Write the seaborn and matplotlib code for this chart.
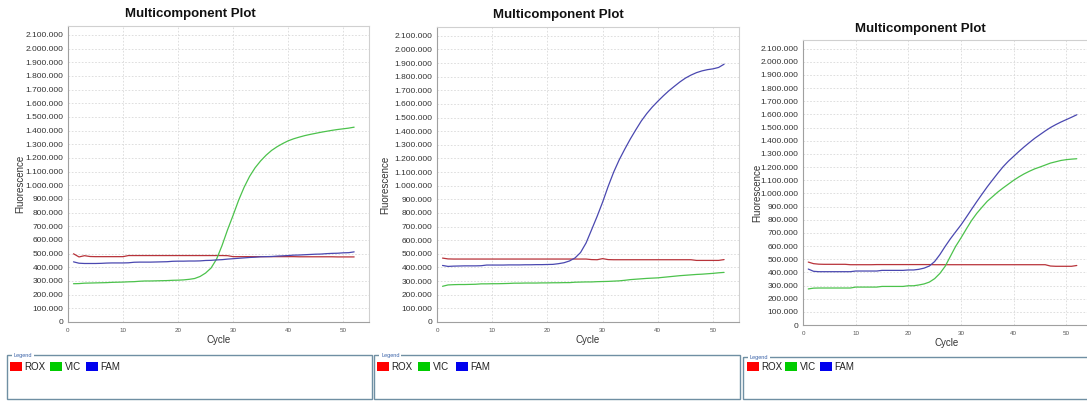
import numpy as np
import pandas as pd
import matplotlib
matplotlib.use("Agg")
import matplotlib.pyplot as plt
import seaborn as sns
from matplotlib.patches import Rectangle
from matplotlib.ticker import FuncFormatter, MultipleLocator

sns.set_style("white")
plt.rcParams['font.family'] = ['Liberation Sans', 'DejaVu Sans']

# Cycle numbers (shared by all three runs)
cycles = list(range(1, 53))
dyes = ["ROX", "VIC", "FAM"]

# Run 1 - fluorescence per cycle (thousands)
p1_rox = [499, 476, 485, 479, 478, 478, 478, 478, 478, 478,
          486, 486, 486, 486, 486, 486, 486, 486, 486, 486,
          486, 486, 486, 486, 486, 486, 486, 486, 485, 478,
          478, 478, 478, 478, 478, 478, 478, 478, 478, 478,
          478, 477, 477, 477, 477, 477, 477, 477, 476, 476,
          476, 476]
p1_vic = [280, 281, 284, 285, 286, 287, 288, 290, 291, 292,
          294, 295, 298, 300, 300, 301, 302, 303, 305, 306,
          308, 312, 318, 333, 358, 395, 460, 560, 675, 780,
          890, 985, 1065, 1128, 1178, 1220, 1255, 1282, 1305, 1325,
          1340, 1352, 1363, 1372, 1380, 1388, 1395, 1402, 1408, 1413,
          1418, 1425]
p1_fam = [440, 430, 428, 428, 428, 429, 431, 432, 432, 432,
          433, 437, 438, 438, 438, 439, 440, 441, 444, 445,
          445, 446, 446, 447, 450, 451, 454, 456, 460, 463,
          466, 469, 472, 474, 477, 478, 479, 482, 484, 486,
          489, 490, 492, 494, 496, 497, 500, 502, 503, 506,
          507, 513]

# Run 2
p2_rox = [469, 463, 462, 462, 462, 462, 462, 462, 462, 462,
          462, 462, 462, 462, 462, 462, 462, 462, 462, 462,
          462, 462, 462, 462, 462, 462, 462, 458, 457, 465,
          458, 457, 457, 457, 457, 457, 457, 457, 457, 457,
          457, 457, 457, 457, 457, 457, 452, 452, 452, 452,
          452, 458]
p2_vic = [262, 272, 274, 275, 275, 276, 277, 280, 280, 281,
          281, 282, 283, 285, 285, 286, 286, 286, 287, 287,
          288, 288, 289, 289, 292, 293, 294, 294, 296, 297,
          298, 300, 302, 306, 311, 314, 317, 320, 322, 324,
          328, 332, 336, 340, 343, 346, 349, 351, 354, 357,
          361, 364]
p2_fam = [415, 408, 410, 411, 412, 412, 412, 413, 418, 418,
          418, 418, 419, 419, 419, 420, 420, 421, 421, 422,
          423, 428, 435, 448, 470, 510, 580, 677, 775, 880,
          995, 1100, 1190, 1268, 1342, 1410, 1475, 1530, 1578, 1620,
          1660, 1697, 1730, 1762, 1790, 1812, 1830, 1843, 1852, 1858,
          1868, 1892]

# Run 3
p3_rox = [478, 466, 462, 461, 461, 461, 461, 461, 458, 458,
          458, 458, 458, 459, 459, 459, 459, 459, 459, 459,
          459, 459, 459, 459, 458, 458, 458, 458, 458, 458,
          458, 458, 458, 458, 458, 458, 458, 458, 458, 458,
          458, 458, 458, 458, 458, 458, 448, 446, 446, 446,
          446, 452]
p3_vic = [274, 280, 281, 281, 281, 281, 281, 281, 281, 288,
          288, 288, 288, 288, 293, 293, 293, 293, 293, 298,
          298, 304, 312, 326, 352, 392, 446, 522, 598, 661,
          728, 793, 848, 895, 940, 975, 1010, 1041, 1070, 1099,
          1125, 1148, 1168, 1186, 1200, 1215, 1230, 1240, 1250, 1256,
          1260, 1263]
p3_fam = [425, 408, 405, 405, 405, 405, 405, 405, 405, 410,
          410, 410, 410, 410, 415, 415, 415, 415, 415, 418,
          418, 423, 432, 448, 482, 535, 597, 655, 708, 760,
          818, 878, 937, 994, 1050, 1102, 1153, 1202, 1244, 1281,
          1318, 1353, 1386, 1418, 1446, 1474, 1500, 1522, 1542, 1560,
          1578, 1597]

runs = [(p1_rox, p1_vic, p1_fam), (p2_rox, p2_vic, p2_fam), (p3_rox, p3_vic, p3_fam)]

line_colors = {"ROX": "#b8333a", "VIC": "#4cc24c", "FAM": "#4a48b0"}
swatch_colors = {"ROX": "#ff0000", "VIC": "#00cc00", "FAM": "#0000ee"}

W, H = 1087, 401
fig = plt.figure(figsize=(W / 100, H / 100), dpi=100)

# overlay in pixel coordinates for titles and legend boxes
over = fig.add_axes([0, 0, 1, 1], zorder=-1)
over.set_xlim(0, W)
over.set_ylim(H, 0)
over.axis("off")

# layout per panel: plot box (l, t, r, b) in px, title pos, cycle label y, fluor label x, legend box
panels = [
    dict(box=(68, 26, 369, 322), title=(190, 14), cyc_y=340, flu_x=20,
         leg=(7, 355, 372, 400), sw=(10, 50, 86)),
    dict(box=(437, 27, 739, 322), title=(558, 15), cyc_y=340, flu_x=385,
         leg=(374, 355, 740, 400), sw=(377, 418, 456)),
    dict(box=(803, 40, 1091, 325), title=(920, 29), cyc_y=343, flu_x=757,
         leg=(743, 357, 1090, 400), sw=(747, 785, 820)),
]

fmt = FuncFormatter(lambda v, p: f"{int(round(v)):,}".replace(",", "."))

for cfg, series in zip(panels, runs):
    l, t, r, b = cfg["box"]
    ax = fig.add_axes([l / W, 1 - b / H, (r - l) / W, (b - t) / H])
    df = pd.DataFrame({
        "Cycle": cycles * 3,
        "Fluorescence": [v * 1000 for s in series for v in s],
        "Dye": [d for d in dyes for _ in cycles],
    })
    sns.lineplot(data=df, x="Cycle", y="Fluorescence", hue="Dye",
                 palette=line_colors, linewidth=0.9, ax=ax, legend=False)
    ax.set_xlim(0, 54.7)
    ax.set_ylim(0, 2165000)
    ax.xaxis.set_major_locator(MultipleLocator(10))
    ax.yaxis.set_major_locator(MultipleLocator(100000))
    ax.yaxis.set_major_formatter(fmt)
    ax.grid(True, color="#d9d9d9", linestyle=(0, (2, 2)), linewidth=0.6)
    ax.tick_params(axis="y", labelsize=6, colors="#333333", length=2, width=0.5, pad=1.5)
    ax.tick_params(axis="x", labelsize=4.5, colors="#555555", length=2, width=0.5, pad=2)
    ax.tick_params(axis="both", color="#999999")
    for side, sp in ax.spines.items():
        sp.set_linewidth(0.8)
        sp.set_color("#a0a0a0" if side in ("left", "bottom") else "#d0d0d0")
    ax.set_xlabel("")
    ax.set_ylabel("")

    # texts in pixel space
    over.text(cfg["title"][0], cfg["title"][1], "Multicomponent Plot", ha="center",
              va="center", fontsize=9.5, fontweight="bold", color="#111111")
    over.text((l + r) / 2 if r < W else 947, cfg["cyc_y"], "Cycle", ha="center",
              va="center", fontsize=7, color="#333333")
    over.text(cfg["flu_x"], (t + b) / 2 + 10, "Fluorescence", rotation=90, ha="center",
              va="center", fontsize=7, color="#333333")

    # legend box
    lx0, ly0, lx1, ly1 = cfg["leg"]
    over.add_patch(Rectangle((lx0, ly0), lx1 - lx0, ly1 - ly0 - 1, fill=False,
                             edgecolor="#6f8fa3", linewidth=1.0))
    over.add_patch(Rectangle((lx0 + 5, ly0 - 3), 22, 6, facecolor="white", edgecolor="none"))
    over.text(lx0 + 7, ly0, "Legend", fontsize=4, color="#3b63a8", va="center", ha="left")
    for dye, sx in zip(dyes, cfg["sw"]):
        over.add_patch(Rectangle((sx, 362), 12, 9, facecolor=swatch_colors[dye],
                                 edgecolor="none"))
        over.text(sx + 14.5, 367, dye, fontsize=7, color="#222222", va="center", ha="left")

fig.savefig("out.png", dpi=100)
